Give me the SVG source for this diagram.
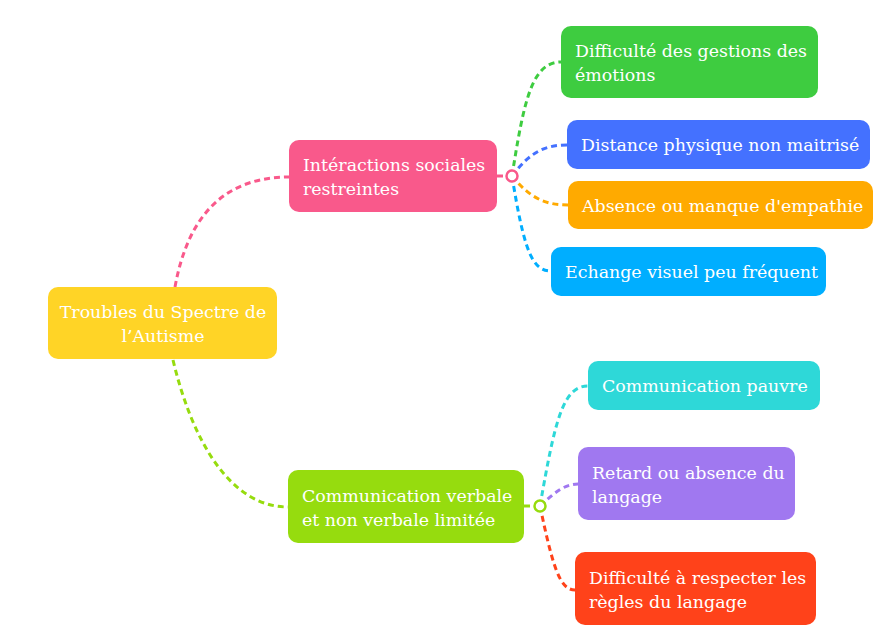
<svg xmlns="http://www.w3.org/2000/svg" width="879" height="632" viewBox="0 0 879 632">
<style>
text{font-family:"DejaVu Serif","Liberation Serif",serif;font-size:17.4px;fill:#fff}
.c{fill:none;stroke-width:3;stroke-dasharray:6 4}
.hub{fill:#fff;stroke-width:2.5}
</style>
<rect width="879" height="632" fill="#fff"/>
<g id="connectors">
<path class="c" stroke="#F9598B" d="M175,287 C188,215 225,177 289,177"/>
<path class="c" stroke="#96DC0E" d="M173,360 C192,440 230,507 288,507"/>
<path class="c" stroke="#F9598B" d="M497,176 L507,176"/>
<path class="c" stroke="#3ECC40" d="M512,176 C524,100 532,62 561,62"/>
<path class="c" stroke="#4471FF" d="M512,176 C530,152 545,145 567,145"/>
<path class="c" stroke="#FFAA00" d="M512,176 C530,198 545,205 568,205"/>
<path class="c" stroke="#00AEFF" d="M512,176 C524,250 532,271 551,271"/>
<path class="c" stroke="#96DC0E" d="M524,506 L535,506"/>
<path class="c" stroke="#2ED8D8" d="M540,506 C555,420 563,386 588,386"/>
<path class="c" stroke="#A078F0" d="M540,506 C555,492 565,484 578,484"/>
<path class="c" stroke="#FF421A" d="M540,506 C553,568 560,590 575,590"/>
<circle class="hub" stroke="#F9598B" cx="512" cy="176" r="5.5"/>
<circle class="hub" stroke="#96DC0E" cx="540" cy="506" r="5.5"/>
</g>
<g id="root">
<rect x="48" y="287" width="229" height="72" rx="10" fill="#FFD426"/>
<text x="163" y="318" text-anchor="middle">Troubles du Spectre de</text>
<text x="163" y="342" text-anchor="middle">l’Autisme</text>
</g>
<g id="interactions">
<rect x="289" y="140" width="208" height="72" rx="10" fill="#F9598B"/>
<text x="303" y="171">Intéractions sociales</text>
<text x="303" y="195">restreintes</text>
</g>
<g id="emotions">
<rect x="561" y="26" width="257" height="72" rx="10" fill="#3ECC40"/>
<text x="575" y="57">Difficulté des gestions des</text>
<text x="575" y="81">émotions</text>
</g>
<g id="distance">
<rect x="567" y="120" width="303" height="49" rx="10" fill="#4471FF"/>
<text x="581" y="151">Distance physique non maitrisé</text>
</g>
<g id="empathie">
<rect x="568" y="181" width="305" height="48" rx="10" fill="#FFAA00"/>
<text x="582" y="212">Absence ou manque d'empathie</text>
</g>
<g id="visuel">
<rect x="551" y="247" width="275" height="49" rx="10" fill="#00AEFF"/>
<text x="565" y="278">Echange visuel peu fréquent</text>
</g>
<g id="communication">
<rect x="288" y="470" width="236" height="73" rx="10" fill="#96DC0E"/>
<text x="302" y="502">Communication verbale</text>
<text x="302" y="526">et non verbale limitée</text>
</g>
<g id="pauvre">
<rect x="588" y="361" width="232" height="49" rx="10" fill="#2ED8D8"/>
<text x="602" y="392">Communication pauvre</text>
</g>
<g id="retard">
<rect x="578" y="447" width="217" height="73" rx="10" fill="#A078F0"/>
<text x="592" y="479">Retard ou absence du</text>
<text x="592" y="503">langage</text>
</g>
<g id="regles">
<rect x="575" y="552" width="241" height="73" rx="10" fill="#FF421A"/>
<text x="589" y="584">Difficulté à respecter les</text>
<text x="589" y="608">règles du langage</text>
</g>
</svg>
